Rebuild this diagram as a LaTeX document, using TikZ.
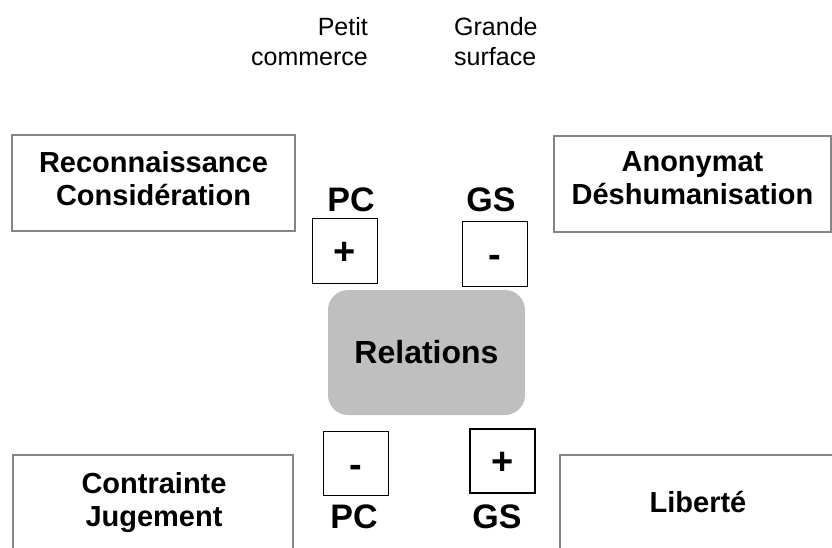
\documentclass[tikz,border=0pt]{standalone}
\usepackage{fontspec}
\setmainfont{Liberation Sans}
\definecolor{framegray}{HTML}{858585}
\definecolor{hubgray}{HTML}{BFBFBF}
\begin{document}
\begin{tikzpicture}[x=1pt,y=-1pt,
  framebox/.style={draw=framegray, line width=2pt, minimum width=283pt,
    minimum height=96pt, inner sep=0pt},
  boxtext/.style={font=\fontsize{29}{33}\selectfont\bfseries, align=center, inner sep=0pt},
  signbox/.style={draw=black, line width=1.6pt, minimum width=65pt, minimum height=65pt,
    inner sep=0pt, text height=27.4pt, text depth=0pt,
    font=\fontsize{38}{40}\selectfont\bfseries},
  tag/.style={font=\fontsize{34}{38}\selectfont\bfseries, inner sep=0pt},
  header/.style={font=\fontsize{25}{30}\selectfont, inner sep=0pt},
  hub/.style={fill=hubgray, rounded corners=20pt, minimum width=197pt,
    minimum height=125pt, inner sep=0pt, font=\fontsize{32}{36}\selectfont\bfseries}]
\useasboundingbox (0,0) rectangle (832,547);
\clip (0,0) rectangle (832,547);

% column headers
\node[header, anchor=north east, align=right] (pchead) at (368,17) {Petit\\commerce};
\node[header, anchor=north west, align=left] (gshead) at (454,17) {Grande\\surface};

% outer frames
\node[framebox] (reco) at (153.5,183) {};
\node[boxtext] (recotext) at (153.5,178.5) {Reconnaissance\\Considération};
\node[framebox, minimum width=277pt] (anon) at (692.5,183.5) {};
\node[boxtext] (anontext) at (692.5,178.5) {Anonymat\\Déshumanisation};
\node[framebox, minimum width=280pt] (contr) at (153,503) {};
\node[boxtext] (contrtext) at (154,503) {Contrainte\\Jugement};
\node[framebox, minimum width=280pt] (lib) at (700,503) {};
\node[boxtext] (libtext) at (698,502) {Liberté};

% central hub
\node[hub] (rel) at (426.5,352.5) {Relations};

% scores, upper side
\node[tag] (pctop) at (351,200) {PC};
\node[tag] (gstop) at (491,200) {GS};
\node[signbox] (pcplus) at (345,251) {+};
\node[signbox] (gsminus) at (495,254) {-};

% scores, lower side
\node[signbox, minimum height=64pt] (pcminus) at (356,463.5) {-};
\node[signbox, minimum height=64pt] (gsplus) at (502.5,461) {+};
\node[tag] (pcbot) at (354,517) {PC};
\node[tag] (gsbot) at (497,517) {GS};
\end{tikzpicture}
\end{document}
